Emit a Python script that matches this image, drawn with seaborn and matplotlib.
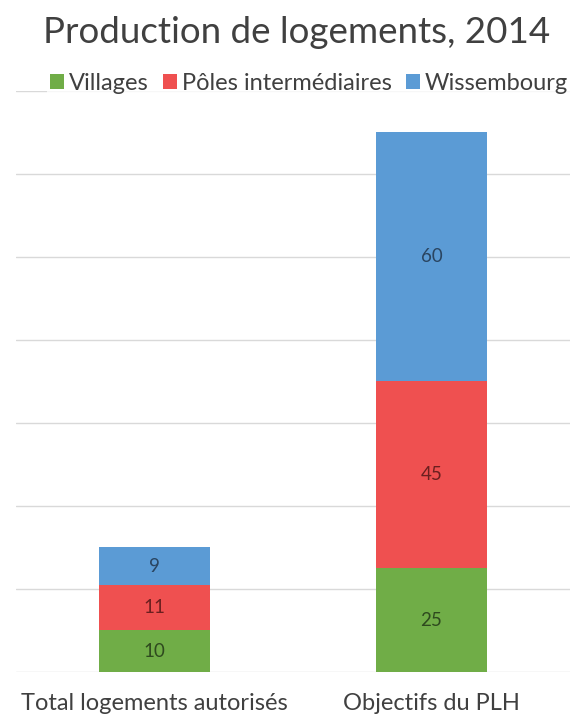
import matplotlib
matplotlib.use("Agg")
import matplotlib.pyplot as plt
import seaborn as sns
import numpy as np
import pandas as pd
from matplotlib.patches import Patch

categories = ["Total logements autorisés", "Objectifs du PLH"]
series = ["Villages", "Pôles intermédiaires", "Wissembourg"]
villages = [10, 25]
poles = [11, 45]
wissembourg = [9, 60]

colors = ["#70AD47", "#EF5050", "#5B9BD5"]
label_colors = ["#2E4A1E", "#6B1F1F", "#2A4561"]

sns.set_theme(style="white")
plt.rcParams["font.family"] = ["Lato", "DejaVu Sans"]

fig = plt.figure(figsize=(5.75, 7.16), dpi=100)
ax = fig.add_axes([0.028, 0.0615, 0.963, 0.8115])

values = [villages, poles, wissembourg]
bottom = np.zeros(len(categories))
for name, vals, col, lc in zip(series, values, colors, label_colors):
    df = pd.DataFrame({"cat": categories, "val": vals})
    sns.barplot(data=df, x="cat", y="val", color=col, width=0.4,
                bottom=bottom, ax=ax, saturation=1, zorder=3, linewidth=0)
    for i, v in enumerate(vals):
        ax.text(i, bottom[i] + v / 2, str(v), ha="center", va="center",
                fontsize=13.5, color=lc, zorder=4)
    bottom = bottom + np.array(vals)

ax.set_ylim(0, 140)
ax.set_xlim(-0.5, 1.5)
ax.set_yticks(np.arange(0, 141, 20))
ax.yaxis.grid(True, color="#D9D9D9", linewidth=1, zorder=0)
ax.set_yticklabels([])
ax.tick_params(axis="y", length=0)
ax.tick_params(axis="x", length=0, labelsize=17, colors="#404040", pad=15)
for s in ax.spines.values():
    s.set_visible(False)
ax.set_xlabel("")
ax.set_ylabel("")

fig.text(0.515, 0.954, "Production de logements, 2014", ha="center",
         va="center", fontsize=26.5, color="#404040")

handles = [Patch(facecolor=c, edgecolor="none") for c in colors]
fig.legend(handles, series, loc="center", bbox_to_anchor=(0.537, 0.883),
           ncol=3, frameon=True, facecolor="white", edgecolor="none",
           fontsize=17, handlelength=0.6, handleheight=0.6,
           handletextpad=0.2, columnspacing=0.6, labelcolor="#404040",
           borderpad=0.1)

fig.savefig("out.png", dpi=100)
